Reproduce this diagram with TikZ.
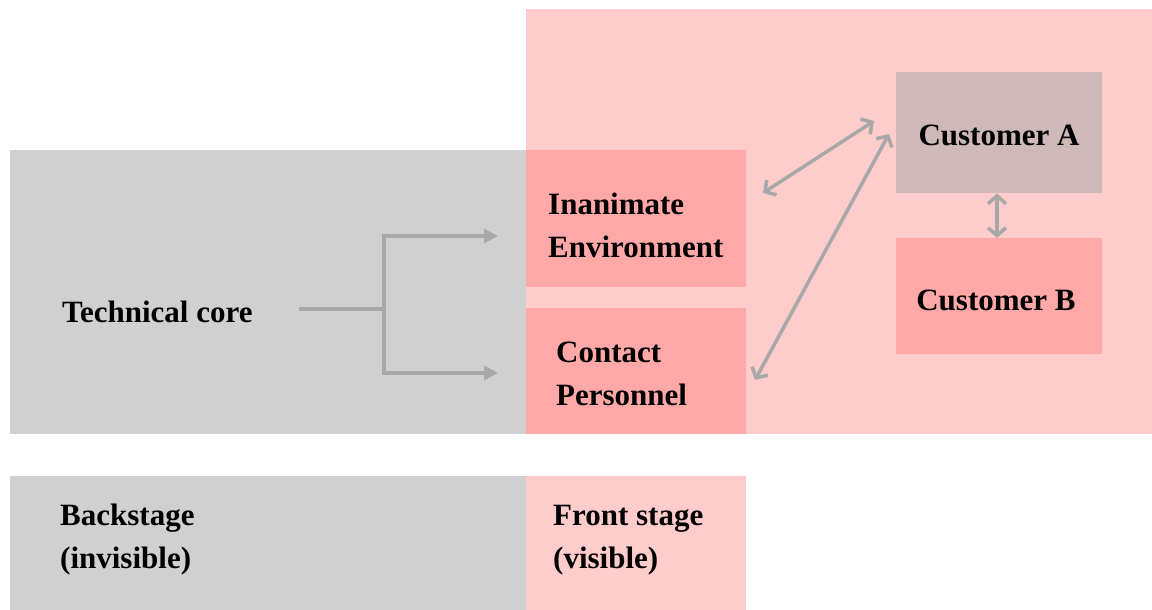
\documentclass[tikz,border=0pt]{standalone}
\usepackage{fontspec}
\setmainfont{Liberation Serif}
\usetikzlibrary{arrows.meta}
\definecolor{backgray}{HTML}{D0D0D0}
\definecolor{frontpink}{HTML}{FFCCCC}
\definecolor{boxpink}{HTML}{FFA8A8}
\definecolor{custgray}{HTML}{CFB8B8}
\definecolor{linkgray}{HTML}{A8A8A8}
\tikzset{
  lbl/.style={font=\bfseries\fontsize{31}{43}\selectfont, align=left, inner sep=0pt, anchor=west},
  clbl/.style={font=\bfseries\fontsize{31}{43}\selectfont, inner sep=0pt},
  plain/.style={draw=linkgray, line width=3.5pt},
  flow/.style={plain, -{Triangle[length=14pt,width=14pt]}},
  link/.style={plain, {Straight Barb[length=8pt,width=18pt,line width=3.5pt]}-{Straight Barb[length=8pt,width=18pt,line width=3.5pt]}},
}
\begin{document}
\begin{tikzpicture}[x=1pt,y=-1pt]
\useasboundingbox (0,0) rectangle (1152,610);
% stage areas
\fill[frontpink] (526,9) rectangle (1152,434);
\fill[backgray] (10,150) rectangle (526,434);
\fill[backgray] (10,476) rectangle (526,610);
\fill[frontpink] (526,476) rectangle (746,610);
% boxes
\node[fill=boxpink, minimum width=220pt, minimum height=137pt, inner sep=0pt, anchor=north west] (env) at (526,150) {};
\node[fill=boxpink, minimum width=220pt, minimum height=126pt, inner sep=0pt, anchor=north west] (pers) at (526,308) {};
\node[fill=custgray, minimum width=206pt, minimum height=121pt, inner sep=0pt, anchor=north west] (ca) at (896,72) {};
\node[fill=boxpink, minimum width=206pt, minimum height=116pt, inner sep=0pt, anchor=north west] (cb) at (896,238) {};
% labels
\node[lbl] (core) at (62,312) {Technical core};
\node[lbl] (envt) at (548,225) {Inanimate\\Environment};
\node[lbl] (perst) at (556,374) {Contact\\Personnel};
\node[clbl] (cat) at (999,135) {Customer A};
\node[clbl] (cbt) at (996,300) {Customer B};
\node[lbl] (back) at (60,540) {Backstage\\(invisible)};
\node[lbl] (front) at (553,540) {Front stage\\(visible)};
% flows from the technical core
\coordinate (c0) at (299,309);
\coordinate (c1) at (384,309);
\coordinate (e1) at (498,236);
\coordinate (p1) at (498,373);
\draw[plain] (c0) -- (c1);
\draw[flow] (c1) |- (e1);
\draw[flow] (c1) |- (p1);
% links to customer A
\coordinate (l1a) at (763,193);
\coordinate (l1b) at (874,121);
\coordinate (l2a) at (755,380);
\coordinate (l2b) at (889,134);
\draw[link] (l1a) -- (l1b);
\draw[link] (l2a) -- (l2b);
\draw[link] (ca.south -| 997,0) -- (cb.north -| 997,0);
\end{tikzpicture}
\end{document}
